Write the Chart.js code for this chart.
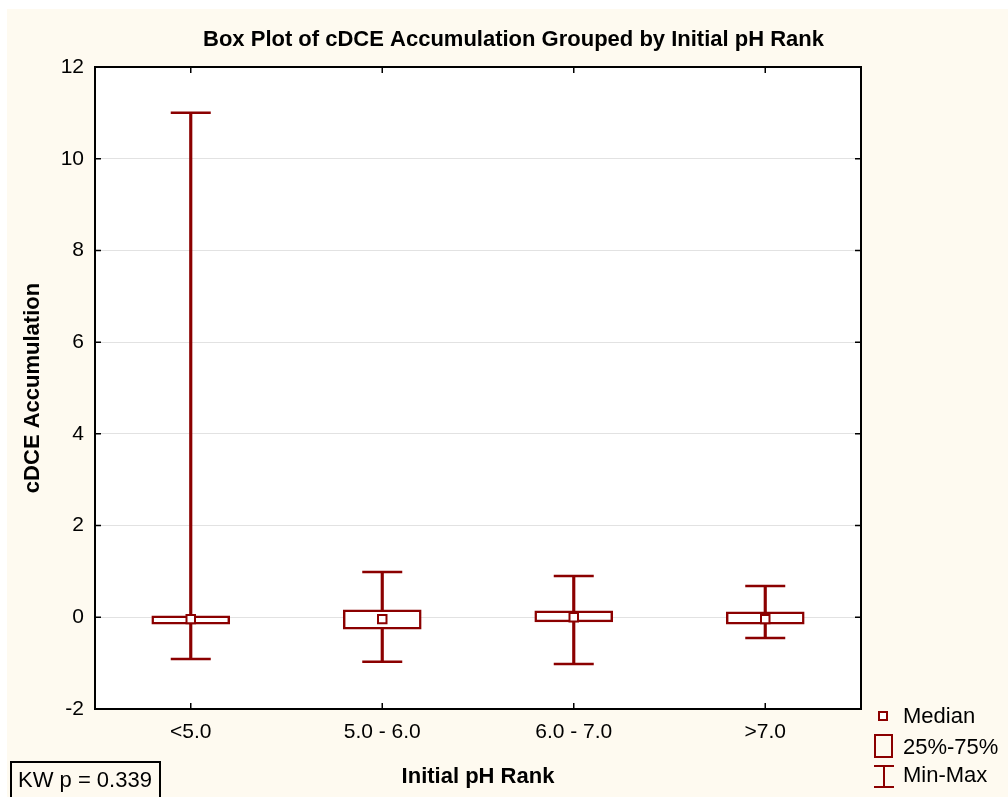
<!DOCTYPE html>
<html>
<head>
<meta charset="utf-8">
<script src="https://cdn.jsdelivr.net/npm/chart.js@4"></script>
<style>
  body { margin: 0; background: #fff; font-family: Arial, "Liberation Sans", sans-serif; }
  #wrap { position: relative; width: 1008px; height: 797px; overflow: hidden; }
  #paper { position: absolute; left: 7px; top: 9px; right: 0; bottom: 0; background: #fefaf0; }
  #c { position: absolute; left: 0; top: 0; }
  .leg { position: absolute; left: 903px; font-size: 22px; color: #000; line-height: 26px; }
  .ico { position: absolute; box-sizing: border-box; }
  #kw { position: absolute; left: 10px; top: 761px; width: 151px; height: 40px; box-sizing: border-box;
        border: 2px solid #000; border-bottom: none; font-size: 22px; padding: 4px 0 0 6px; color: #000; }
</style>
</head>
<body>
<div id="wrap">
  <div id="paper"></div>
  <canvas id="c" width="1008" height="797"></canvas>
  <!-- legenda -->
  <div class="ico" style="left:878px;top:711px;width:10px;height:10px;border:2px solid #8b0000;background:#fff"></div>
  <div class="leg" style="top:703px">Median</div>
  <div class="ico" style="left:874px;top:734px;width:19px;height:24px;border:2px solid #8b0000"></div>
  <div class="leg" style="top:734px">25%-75%</div>
  <div class="ico" style="left:874px;top:765px;width:20px;height:2px;background:#8b0000"></div>
  <div class="ico" style="left:883px;top:765px;width:2px;height:23px;background:#8b0000"></div>
  <div class="ico" style="left:874px;top:786px;width:20px;height:2px;background:#8b0000"></div>
  <div class="leg" style="top:762px">Min-Max</div>
  <div id="kw">KW p = 0.339</div>
</div>
<script>
// dati
const categories = ['<5.0', '5.0 - 6.0', '6.0 - 7.0', '>7.0'];
const mins    = [-0.91, -0.97, -1.02, -0.45];
const q1      = [-0.15, -0.26, -0.10, -0.15];
const medians = [-0.04, -0.04, 0.00, -0.04];
const q3      = [0.03, 0.16, 0.14, 0.12];
const maxs    = [11.0, 0.99, 0.90, 0.68];

const RED = '#8b0000';
const FONT = 'Arial, "Liberation Sans", sans-serif';

// fondo bianco dell'area del grafico
const plotBg = {
  id: 'plotBg',
  beforeDraw(chart) {
    const { ctx, chartArea: a } = chart;
    ctx.save();
    ctx.fillStyle = '#fff';
    ctx.fillRect(a.left, a.top, a.right - a.left, a.bottom - a.top);
    ctx.restore();
  }
};

// cornice nera con tacche verso l'interno
const frame = {
  id: 'frame',
  afterDraw(chart) {
    const { ctx, chartArea: a, scales } = chart;
    ctx.save();
    ctx.strokeStyle = '#000';
    ctx.lineWidth = 2;
    ctx.strokeRect(a.left, a.top, a.right - a.left, a.bottom - a.top);
    ctx.lineWidth = 1.5;
    ctx.beginPath();
    scales.y.ticks.forEach((t, i) => {
      const y = scales.y.getPixelForTick(i);
      ctx.moveTo(a.left, y); ctx.lineTo(a.left + 6, y);
      ctx.moveTo(a.right, y); ctx.lineTo(a.right - 6, y);
    });
    categories.forEach((c, i) => {
      const x = scales.x.getPixelForValue(i);
      ctx.moveTo(x, a.bottom); ctx.lineTo(x, a.bottom - 6);
      ctx.moveTo(x, a.top); ctx.lineTo(x, a.top + 6);
    });
    ctx.stroke();
    ctx.restore();
  }
};

new Chart(document.getElementById('c'), {
  type: 'bar',
  data: {
    labels: categories,
    datasets: [
      {
        // linea min-max
        data: categories.map((c, i) => [mins[i], maxs[i]]),
        backgroundColor: RED,
        barThickness: 2.5,
        grouped: false,
        order: 3
      },
      {
        // scatola 25%-75%
        data: categories.map((c, i) => [q1[i], q3[i]]),
        backgroundColor: '#fff',
        borderColor: RED,
        borderWidth: 2.5,
        borderSkipped: false,
        barThickness: 78,
        grouped: false,
        order: 2
      },
      {
        type: 'line',
        data: mins,
        showLine: false,
        pointStyle: 'line',
        pointRadius: 20,
        pointBorderWidth: 2.5,
        pointBorderColor: RED,
        order: 1
      },
      {
        type: 'line',
        data: maxs,
        showLine: false,
        pointStyle: 'line',
        pointRadius: 20,
        pointBorderWidth: 2.5,
        pointBorderColor: RED,
        order: 1
      },
      {
        type: 'line',
        data: medians,
        showLine: false,
        pointStyle: 'rect',
        pointRadius: 6,
        pointBorderWidth: 2,
        pointBorderColor: RED,
        pointBackgroundColor: '#fff',
        order: 0
      }
    ]
  },
  options: {
    responsive: false,
    devicePixelRatio: 1,
    animation: false,
    layout: { padding: { left: 19, right: 0, top: 0, bottom: 0 } },
    plugins: {
      legend: { display: false },
      tooltip: { enabled: false },
      title: {
        display: true,
        text: 'Box Plot of cDCE Accumulation Grouped by Initial pH Rank',
        color: '#000',
        font: { family: FONT, size: 22, weight: 'bold' },
        padding: { top: 26.8, bottom: 13.8 }
      }
    },
    scales: {
      x: {
        grid: { display: false, drawTicks: false },
        border: { display: false },
        ticks: { color: '#000', font: { family: FONT, size: 21 }, padding: 11 },
        title: {
          display: true,
          text: 'Initial pH Rank',
          color: '#000',
          font: { family: FONT, size: 22, weight: 'bold' },
          padding: { top: 0, bottom: 6.8 }
        },
        afterFit: s => { s.height = 88; }
      },
      y: {
        min: -2,
        max: 12,
        grid: { color: '#e2e2e2', lineWidth: 1, drawTicks: false },
        border: { display: false },
        ticks: { stepSize: 2, color: '#000', font: { family: FONT, size: 21 }, padding: 11 },
        title: {
          display: true,
          text: 'cDCE Accumulation',
          color: '#000',
          font: { family: FONT, size: 22, weight: 'bold' },
          padding: { top: 0.8, bottom: 0 }
        },
        afterFit: s => { s.width = 76; }
      },
      // asse vuoto a destra: lascia spazio per la legenda
      yRight: {
        position: 'right',
        min: -2,
        max: 12,
        grid: { display: false, drawTicks: false },
        border: { display: false },
        ticks: { display: false },
        afterFit: s => { s.width = 147; }
      }
    }
  },
  plugins: [plotBg, frame]
});
</script>
</body>
</html>
